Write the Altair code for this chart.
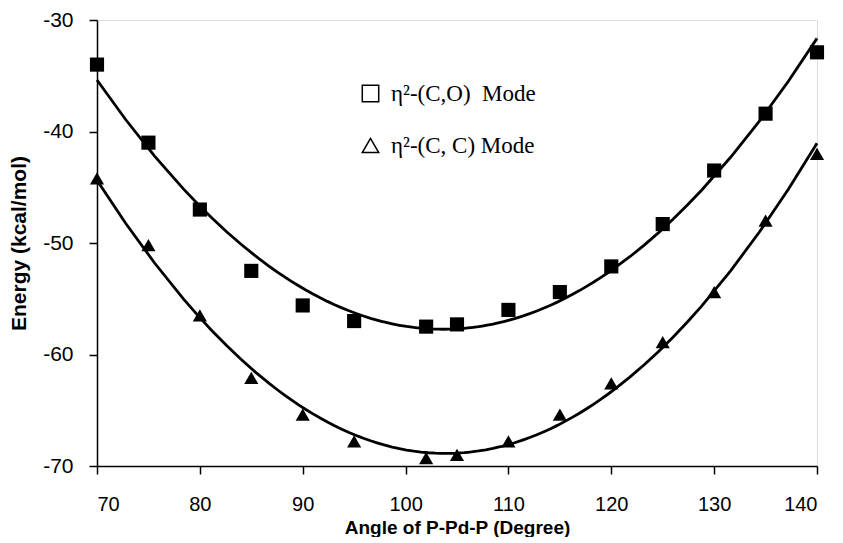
import altair as alt
import pandas as pd

angles = [70, 75, 80, 85, 90, 95, 102, 105, 110, 115, 120, 125, 130, 135, 140]
co_mode = [-34.0, -41.0, -47.0, -52.5, -55.6, -57.0, -57.5, -57.3, -56.0, -54.4, -52.1, -48.3, -43.5, -38.4, -32.9]
cc_mode = [-44.2, -50.2, -56.5, -62.1, -65.4, -67.8, -69.3, -69.0, -67.8, -65.4, -62.6, -58.9, -54.4, -48.0, -42.0]
series_names = ["η²-(C,O)\u00a0 Mode", "η²-(C,\u00a0C) Mode"]
x_ticks = [70, 80, 90, 100, 110, 120, 130, 140]
y_ticks = [-30, -40, -50, -60, -70]

rows = []
for a, v in zip(angles, co_mode):
    rows.append({"angle": a, "energy": v, "mode": series_names[0]})
for a, v in zip(angles, cc_mode):
    rows.append({"angle": a, "energy": v, "mode": series_names[1]})
df = pd.DataFrame(rows)

x_enc = alt.X("angle:Q",
              scale=alt.Scale(domain=[70, 140], nice=False, zero=False),
              axis=alt.Axis(values=x_ticks, title="Angle of P-Pd-P (Degree)", grid=False,
                            tickSize=8, labelPadding=20, titlePadding=4,
                            labelFontSize=20, titleFontSize=19, titleFontWeight="bold",
                            labelFont="Liberation Sans", titleFont="Liberation Sans",
                            domainColor="black", tickColor="black", labelColor="black", titleColor="black",
                            domainWidth=1.5, tickWidth=1.5))
y_enc = alt.Y("energy:Q",
              scale=alt.Scale(domain=[-70, -30], nice=False, zero=False),
              axis=alt.Axis(values=y_ticks, title="Energy (kcal/mol)", grid=False,
                            labelExpr="'' + datum.value",
                            tickSize=8, labelPadding=16, titlePadding=13,
                            labelFontSize=21, titleFontSize=21, titleFontWeight="bold",
                            labelFont="Liberation Sans", titleFont="Liberation Sans",
                            domainColor="black", tickColor="black", labelColor="black", titleColor="black",
                            domainWidth=1.5, tickWidth=1.5))

base = alt.Chart(df)

points = base.mark_point(filled=True, color="black", size=200, opacity=1).encode(
    x=x_enc, y=y_enc,
    shape=alt.Shape("mode:N",
                    scale=alt.Scale(domain=series_names, range=["square", "triangle-up"]),
                    legend=None),
)

legend_layer = base.mark_point(filled=False, color="black", strokeWidth=1.5, opacity=0).encode(
    x="angle:Q", y="energy:Q",
    shape=alt.Shape("mode:N",
                    scale=alt.Scale(domain=series_names, range=["square", "triangle-up"]),
                    legend=alt.Legend(orient="none", legendX=262, legendY=62, title=None,
                                      labelFont="Liberation Serif", labelFontSize=23,
                                      labelColor="black", symbolSize=270, symbolOpacity=1,
                                      symbolStrokeColor="black", symbolStrokeWidth=1.5,
                                      rowPadding=28, labelOffset=9)),
)

lines = base.transform_regression(
    "angle", "energy", method="poly", order=2, groupby=["mode"]
).mark_line(color="black", strokeWidth=2.8).encode(
    x="angle:Q", y="energy:Q", detail="mode:N"
)

chart = alt.layer(lines, points, legend_layer).resolve_scale(
    shape="independent"
).resolve_legend(shape="independent").properties(
    width=720, height=446,
    autosize=alt.AutoSizeParams(type="none"),
    padding={"left": 89, "top": 12, "right": 18, "bottom": 71},
).configure_view(stroke="black", strokeWidth=1.5).configure(background="white")

chart.save("out.html", embed_options={"renderer": "svg", "actions": False})
